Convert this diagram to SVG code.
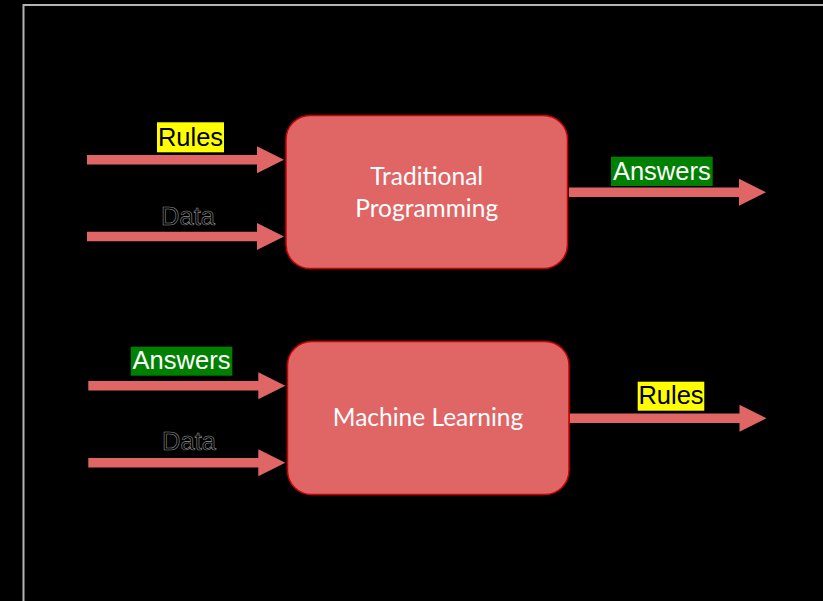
<svg xmlns="http://www.w3.org/2000/svg" xmlns:xlink="http://www.w3.org/1999/xlink" width="823" height="601" viewBox="0 0 823 601">
  <style>
    .frame { fill: none; stroke: #b4b4b4; stroke-width: 2; }
    .box { fill: #e06666; stroke: #cc0000; stroke-width: 1.5; }
    .box-text { font-family: Lato, "Open Sans", "Liberation Sans", sans-serif; font-size: 24.5px; fill: #ffffff; text-anchor: middle; }
    .arrow { fill: #e06666; }
    .label { font-family: "Liberation Sans", Arial, sans-serif; font-size: 25.5px; }
    .label-dark { fill: #000000; }
    .label-light { fill: #ffffff; }
    .label-outline { fill: #000000; stroke: #909090; stroke-width: 0.6; }
    .hl-yellow { fill: #ffff00; }
    .hl-green { fill: #008000; }
  </style>
  <defs>
    <!-- block arrow, 197 long, tip at (197,0) -->
    <path id="block-arrow" d="M0,-4.8 H170 V-13.5 L197,0 L170,13.5 V4.8 H0 Z"/>
  </defs>

  <rect x="0" y="0" width="823" height="601" fill="#000000"/>
  <path class="frame" d="M23.5,601 V5 H823"/>

  <g id="connectors">
    <use xlink:href="#block-arrow" class="arrow" transform="translate(87,159.7)"/>
    <use xlink:href="#block-arrow" class="arrow" transform="translate(87,236.5)"/>
    <use xlink:href="#block-arrow" class="arrow" transform="translate(569,192.3)"/>
    <use xlink:href="#block-arrow" class="arrow" transform="translate(88.3,385.8)"/>
    <use xlink:href="#block-arrow" class="arrow" transform="translate(88.3,462.8)"/>
    <use xlink:href="#block-arrow" class="arrow" transform="translate(569.5,418.3)"/>

    <g id="label-rules-in">
      <rect class="hl-yellow" x="157" y="122.3" width="67" height="30"/>
      <text class="label label-dark" x="190.5" y="145.7" text-anchor="middle">Rules</text>
    </g>
    <g id="label-data-in-1">
      <text class="label label-outline" x="188" y="225" text-anchor="middle">Data</text>
    </g>
    <g id="label-answers-out">
      <rect class="hl-green" x="611" y="156.7" width="101.7" height="29.3"/>
      <text class="label label-light" x="661.8" y="180" text-anchor="middle">Answers</text>
    </g>
    <g id="label-answers-in">
      <rect class="hl-green" x="130.7" y="346.7" width="101.6" height="29"/>
      <text class="label label-light" x="181.5" y="369.3" text-anchor="middle">Answers</text>
    </g>
    <g id="label-data-in-2">
      <text class="label label-outline" x="189" y="450" text-anchor="middle">Data</text>
    </g>
    <g id="label-rules-out">
      <rect class="hl-yellow" x="637.7" y="381.7" width="66.6" height="29"/>
      <text class="label label-dark" x="671" y="404.3" text-anchor="middle">Rules</text>
    </g>
  </g>

  <g id="traditional-programming">
    <rect class="box" x="286" y="115.5" width="281.5" height="153" rx="24" ry="24"/>
    <text class="box-text" x="426.7" y="185">Traditional</text>
    <text class="box-text" x="426.7" y="216.7">Programming</text>
  </g>

  <g id="machine-learning">
    <rect class="box" x="287.5" y="341.5" width="281.5" height="153" rx="24" ry="24"/>
    <text class="box-text" x="428" y="426">Machine Learning</text>
  </g>
</svg>
